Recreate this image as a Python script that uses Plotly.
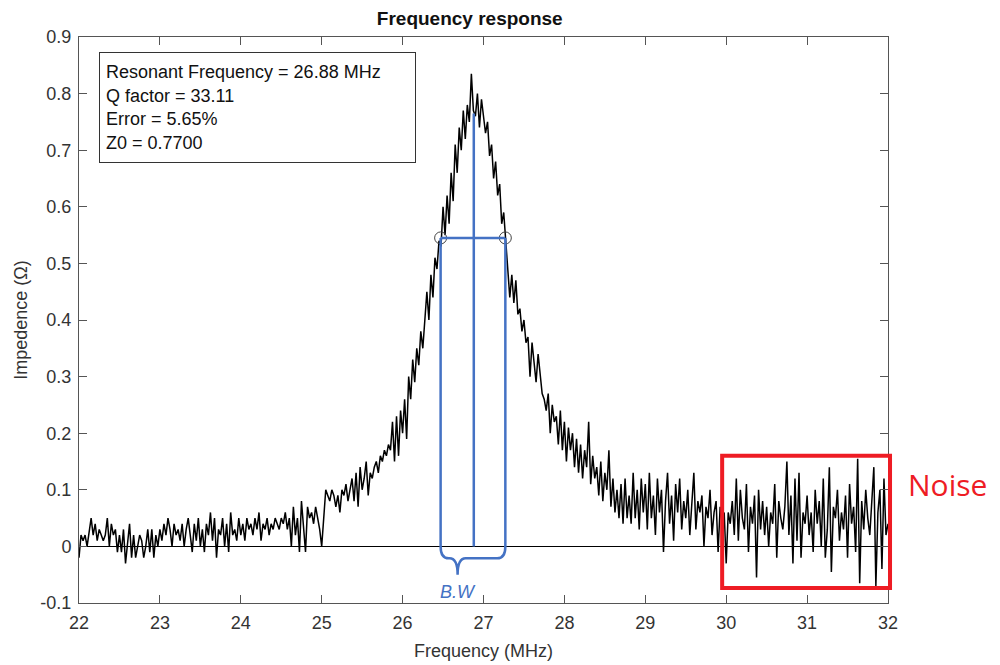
import numpy as np
import plotly.graph_objects as go

# ---------------- data ----------------
freq_start = 22.0
freq_step = 0.025

z_22 = [-0.02, 0.02, 0.01, 0.02, 0.00, 0.03, 0.05, 0.02, 0.04, 0.01,
        0.03, 0.02, 0.01, 0.02, 0.05, 0.00, 0.04, 0.02, 0.03, -0.01,
        0.02, -0.01, 0.03, -0.03, 0.01, 0.04, -0.02, 0.02, -0.02, 0.00,
        0.02, 0.01, -0.02, 0.00, 0.03, -0.01, 0.03, -0.02, 0.02, 0.00]
z_23 = [0.03, 0.01, 0.04, 0.02, 0.05, 0.03, 0.00, 0.04, 0.02, 0.03,
        0.01, 0.04, 0.00, 0.03, 0.05, 0.02, -0.01, 0.04, 0.01, 0.05,
        0.00, 0.03, -0.01, 0.04, 0.02, 0.06, 0.01, 0.05, -0.02, 0.03,
        0.02, 0.05, 0.00, 0.04, -0.01, 0.06, 0.02, 0.03, 0.01, 0.05]
z_24 = [0.02, 0.04, 0.01, 0.05, 0.03, 0.04, 0.02, 0.05, 0.03, 0.06,
        0.01, 0.04, 0.03, 0.05, 0.02, 0.04, 0.03, 0.05, 0.04, 0.03,
        0.05, 0.04, 0.06, 0.03, 0.05, 0.00, 0.07, 0.02, 0.05, -0.01,
        0.08, 0.03, -0.01, 0.07, 0.05, 0.06, 0.04, 0.07, 0.05, 0.03]
z_25 = [0.00, 0.06, 0.10, 0.09, 0.08, 0.10, 0.09, 0.07, 0.09, 0.06,
        0.10, 0.09, 0.11, 0.08, 0.10, 0.12, 0.08, 0.13, 0.07, 0.14,
        0.10, 0.12, 0.15, 0.09, 0.13, 0.12, 0.14, 0.15, 0.13, 0.16,
        0.15, 0.17, 0.16, 0.18, 0.17, 0.22, 0.15, 0.23, 0.16, 0.24]
z_26 = [0.20, 0.26, 0.19, 0.30, 0.26, 0.33, 0.29, 0.35, 0.32, 0.38,
        0.35, 0.41, 0.45, 0.40, 0.48, 0.44, 0.51, 0.49, 0.54, 0.53,
        0.60, 0.55, 0.62, 0.57, 0.66, 0.61, 0.71, 0.66, 0.74, 0.70,
        0.77, 0.72, 0.78, 0.75, 0.835, 0.77, 0.76, 0.80, 0.74, 0.79]
z_27 = [0.76, 0.73, 0.75, 0.69, 0.71, 0.65, 0.68, 0.62, 0.64, 0.57,
        0.59, 0.54, 0.50, 0.44, 0.48, 0.43, 0.47, 0.41, 0.42, 0.38,
        0.40, 0.36, 0.37, 0.30, 0.36, 0.33, 0.29, 0.34, 0.30, 0.27,
        0.26, 0.24, 0.27, 0.20, 0.25, 0.22, 0.23, 0.18, 0.24, 0.17]
z_28 = [0.22, 0.15, 0.21, 0.17, 0.20, 0.14, 0.19, 0.13, 0.18, 0.12,
        0.17, 0.14, 0.22, 0.11, 0.16, 0.12, 0.14, 0.09, 0.15, 0.08,
        0.13, 0.10, 0.17, 0.07, 0.12, 0.06, 0.10, 0.05, 0.11, 0.04,
        0.12, 0.05, 0.09, 0.04, 0.13, 0.05, 0.10, 0.03, 0.12, 0.06]
z_29 = [0.11, 0.03, 0.13, 0.05, 0.09, 0.02, 0.12, 0.06, 0.10, -0.01,
        0.08, 0.13, 0.04, 0.09, 0.01, 0.11, 0.06, 0.12, 0.03, 0.08,
        0.05, 0.10, 0.02, 0.07, 0.13, 0.03, 0.08, 0.06, 0.09, 0.00,
        0.07, 0.05, 0.10, 0.02, 0.06, 0.08, -0.01, 0.07, 0.04, 0.06]
z_30 = [-0.03, 0.06, 0.04, 0.08, 0.02, 0.12, 0.01, 0.10, 0.05, 0.03,
        0.11, -0.01, 0.07, 0.04, 0.09, -0.055, 0.10, 0.03, 0.08, 0.02,
        0.07, 0.00, 0.06, 0.04, 0.11, -0.02, 0.08, 0.05, 0.03, 0.07,
        0.15, 0.02, 0.09, -0.03, 0.12, 0.01, 0.13, -0.02, 0.06, 0.04]
z_31 = [0.09, 0.02, 0.06, -0.01, 0.10, 0.04, 0.08, 0.00, 0.12, -0.02,
        0.03, 0.14, -0.045, 0.07, 0.05, 0.10, 0.01, 0.06, 0.03, 0.09,
        -0.02, 0.11, 0.04, 0.07, -0.01, 0.155, -0.065, 0.08, 0.03, 0.10,
        0.05, 0.02, 0.09, 0.14, -0.07, 0.06, 0.10, -0.04, 0.12, 0.02]
z_32 = [0.04]

impedance = z_22 + z_23 + z_24 + z_25 + z_26 + z_27 + z_28 + z_29 + z_30 + z_31 + z_32
frequency = [round(freq_start + freq_step * i, 3) for i in range(len(impedance))]

# resonance / bandwidth values
f_res = 26.88
q_factor = 33.11
error_pct = 5.65
z0 = 0.7700
f_low = 26.47
f_high = 27.27
half_level = 0.545
center_top = 0.765
brace_tip_x = 26.68

x_ticks = [22, 23, 24, 25, 26, 27, 28, 29, 30, 31, 32]
y_ticks = [-0.1, 0, 0.1, 0.2, 0.3, 0.4, 0.5, 0.6, 0.7, 0.8, 0.9]
y_tick_labels = ["-0.1", "0", "0.1", "0.2", "0.3", "0.4", "0.5", "0.6", "0.7", "0.8", "0.9"]

# ---------------- figure ----------------
FONT = "Liberation Sans, Arial, sans-serif"
BLUE = "#4472C4"
RED = "#EE1C24"
AXC = "#555555"

fig = go.Figure()
fig.add_trace(go.Scatter(x=frequency, y=impedance, mode="lines",
                         line=dict(color="black", width=1.5), showlegend=False,
                         hoverinfo="skip"))
fig.add_trace(go.Scatter(x=[f_low, f_high], y=[half_level, half_level], mode="markers",
                         marker=dict(symbol="circle-open", size=12, color="#444444",
                                     line=dict(width=1)), showlegend=False))

# blue bandwidth marks
fig.add_shape(type="line", x0=f_low, x1=f_high, y0=half_level, y1=half_level,
              line=dict(color=BLUE, width=2.5))
fig.add_shape(type="line", x0=f_res, x1=f_res, y0=center_top, y1=0,
              line=dict(color=BLUE, width=2.5))
by = -0.021
ty = -0.05
dx = 0.1
path = (f"M {f_low},{half_level} L {f_low},0 Q {f_low},{by} {f_low+dx},{by} "
        f"L {brace_tip_x-dx},{by} Q {brace_tip_x},{by} {brace_tip_x},{ty} "
        f"Q {brace_tip_x},{by} {brace_tip_x+dx},{by} L {f_high-dx},{by} "
        f"Q {f_high},{by} {f_high},0 L {f_high},{half_level}")
fig.add_shape(type="path", path=path, line=dict(color=BLUE, width=2.5))

fig.add_annotation(x=brace_tip_x, y=-0.081, xref="x", yref="y", text="B.W",
                   showarrow=False, font=dict(family=FONT, size=18, color=BLUE, style="italic"))

# noise box
fig.add_shape(type="rect", xref="paper", yref="paper", x0=0.795, x1=1.0025,
              y0=0.0265, y1=0.26, line=dict(color=RED, width=4))
fig.add_annotation(xref="paper", yref="paper", x=1.022, y=0.21, xanchor="left",
                   yanchor="middle", text="Noise", showarrow=False,
                   font=dict(family="Open Sans, sans-serif", size=30, color=RED))

# info box
info = (f"Resonant Frequency = {f_res:.2f} MHz<br>Q factor = {q_factor:.2f}<br>"
        f"Error = {error_pct:.2f}%<br>Z0 = {z0:.4f}")
fig.add_annotation(xref="paper", yref="paper", x=0.0247, y=0.9735, xanchor="left",
                   yanchor="top", text=info, align="left", showarrow=False,
                   bordercolor="#333333", borderwidth=1, borderpad=6, bgcolor="white",
                   width=303, height=97, font=dict(family=FONT, size=18, color="#111111"))

# the page adds an 8px body margin, so the margins are reduced by 8px on top/left
fig.update_layout(
    width=1000, height=665,
    margin=dict(l=71, r=120, t=29, b=70, autoexpand=False),
    paper_bgcolor="white", plot_bgcolor="white",
    font=dict(family=FONT, size=18, color="#333333"),
    title=dict(text="<b>Frequency response</b>", x=0.483, xref="paper", xanchor="center",
               y=1 - 10 / 665, yref="container", yanchor="middle", automargin=False,
               font=dict(family=FONT, size=19, color="#111111")),
    showlegend=False,
)
fig.update_xaxes(range=[22, 32], tickvals=x_ticks, ticks="inside", ticklen=8,
                 tickcolor=AXC, showline=True, linecolor=AXC, linewidth=1,
                 mirror="ticks", showgrid=False, zeroline=False, automargin=False,
                 tickfont=dict(size=18, color="#333333"), ticklabelstandoff=3,
                 title=dict(text="Frequency (MHz)", standoff=12,
                            font=dict(size=18, color="#333333")))
fig.update_yaxes(range=[-0.1, 0.9], tickvals=y_ticks, ticktext=y_tick_labels,
                 ticks="inside", ticklen=8, tickcolor=AXC, showline=True,
                 linecolor=AXC, linewidth=1, mirror="ticks", showgrid=False,
                 zeroline=True, zerolinecolor="black", zerolinewidth=1, automargin=False,
                 tickfont=dict(size=18, color="#333333"), ticklabelstandoff=3,
                 title=dict(text="Impedence (Ω)", standoff=8,
                            font=dict(size=18, color="#333333")))

fig.write_html("out.html")
